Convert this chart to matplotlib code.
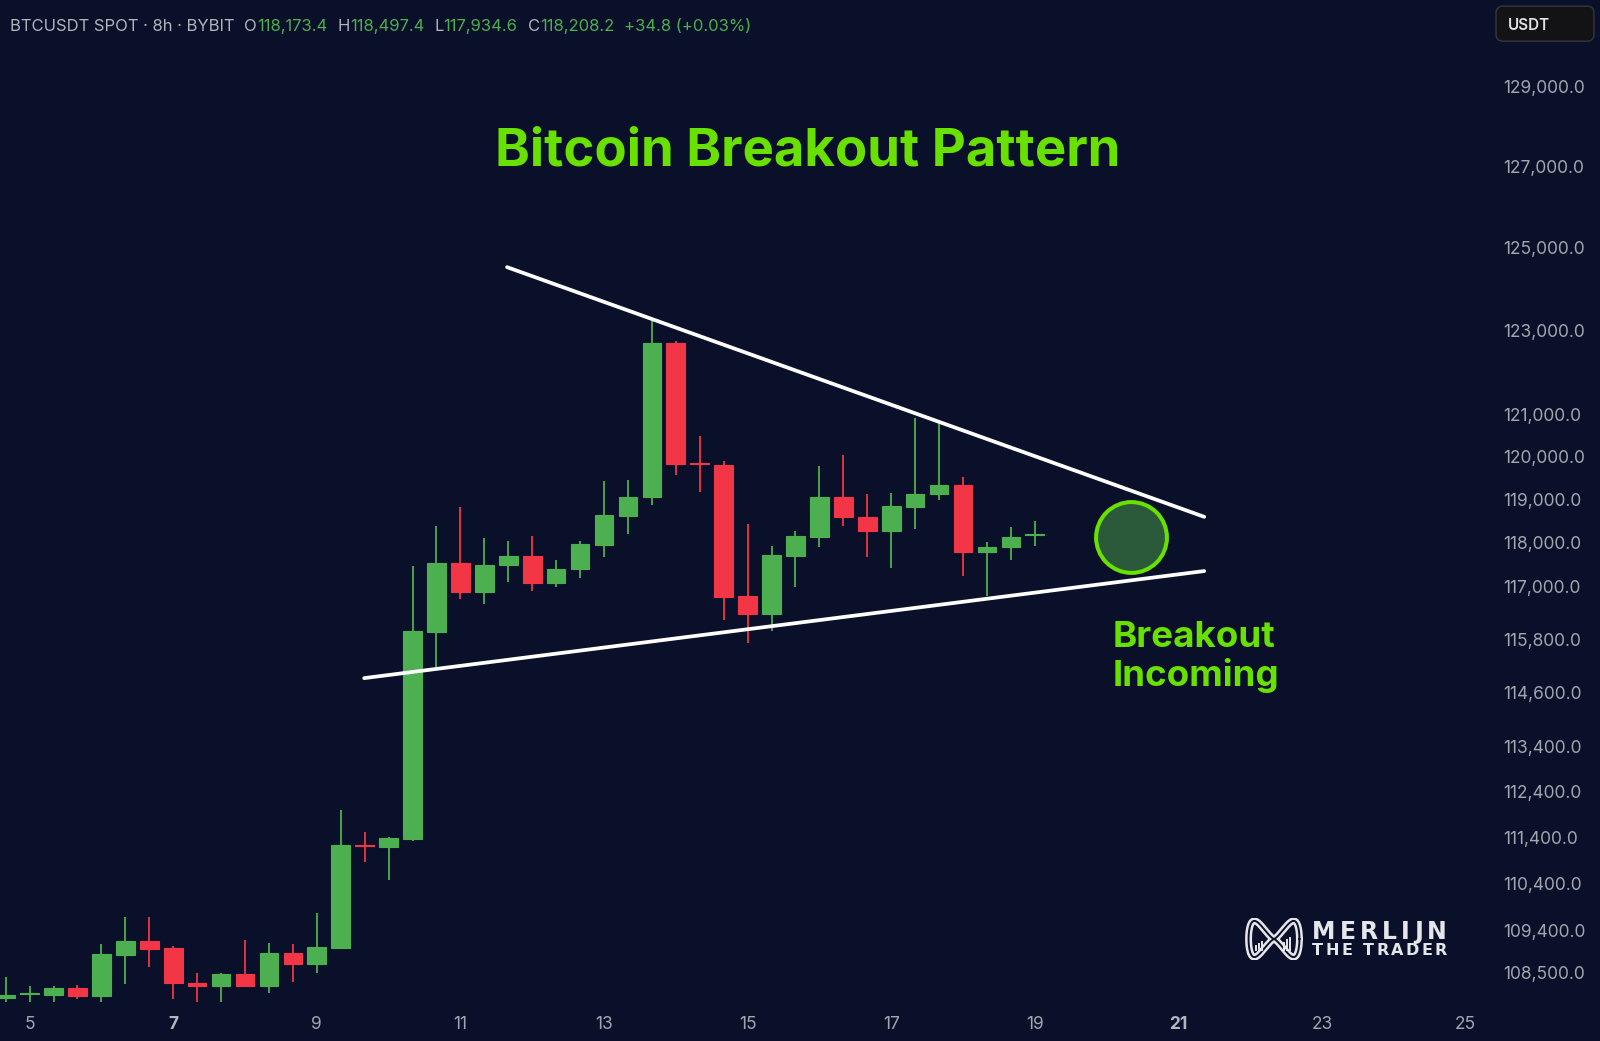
import matplotlib
matplotlib.use("Agg")
import matplotlib.pyplot as plt
import numpy as np
import pandas as pd
from matplotlib.ticker import FixedLocator, FuncFormatter, NullLocator
from matplotlib.patches import FancyBboxPatch

W, H, DPI = 1600, 1041, 100

# ---------------- data ----------------
candle_times = pd.date_range("2025-07-04 16:00", periods=44, freq="8h")
opens = [107950, 108045, 108030, 108175, 107990, 108875, 109160, 109020, 108280, 108200,
         108460, 108220, 108900, 108680, 109015, 111230, 111190, 111365, 115970, 117535,
         116873, 117490, 117685, 117068, 117400, 117950, 118610, 119054, 122697, 119855,
         119816, 116774, 116360, 117685, 118137, 119070, 118596, 118261, 118830, 119133,
         119333, 117786, 117900, 118173.4]
highs = [108400, 108200, 108215, 108235, 109100, 109670, 109680, 109065, 108485, 108495,
         109180, 109115, 109100, 109755, 112000, 111515, 111410, 117456, 118377, 118830,
         118107, 118037, 118160, 117610, 118037, 119426, 119466, 123215, 122735, 120494,
         119893, 118440, 117930, 118261, 119776, 120049, 119140, 119157, 120908, 120790,
         119520, 118014, 118354, 118497.4]
lows = [107800, 107800, 107800, 107925, 107800, 108255, 108620, 107940, 107800, 107800,
        108190, 108060, 108295, 108485, 108990, 110855, 110480, 111330, 115178, 116715,
        116593, 117090, 116887, 116977, 117182, 117672, 118200, 118883, 119566, 119170,
        116225, 115721, 115983, 116986, 117913, 118377, 117663, 117420, 118317, 119000,
        117244, 116790, 117610, 117934.6]
closes = [108030, 108060, 108175, 107990, 108890, 109160, 109000, 108265, 108210, 108460,
          108215, 108900, 108680, 109035, 111230, 111215, 111380, 115983, 117535, 116873,
          117490, 117685, 117068, 117400, 117968, 118634, 119054, 122697, 119832, 119832,
          116751, 116360, 117708, 118160, 119070, 118587, 118261, 118844, 119140, 119343,
          117786, 117900, 118137, 118208.2]

y_ticks = [129000, 127000, 125000, 123000, 121000, 120000, 119000, 118000, 117000,
           115800, 114600, 113400, 112400, 111400, 110400, 109400, 108500]
x_ticks = [5, 7, 9, 11, 13, 15, 17, 19, 21, 23, 25]
bold_x_ticks = [7, 21]

upper_line_days = [11.65, 21.36]
upper_line_prices = [124530, 118600]
lower_line_days = [9.66, 21.36]
lower_line_prices = [114920, 117350]
circle_day = 20.34
circle_price = 118130

symbol_text = "BTCUSDT SPOT · 8h · BYBIT"
title_text = "Bitcoin Breakout Pattern"
note_lines = ["Breakout", "Incoming"]
currency_text = "USDT"
brand_lines = ["MERLIJN", "THE TRADER"]

# ---------------- styles ----------------
BG = "#0a1029"
GREEN = "#4caf50"
RED = "#f23645"
LIME = "#68e000"
GRAY = "#a3a6af"
HEAD_GRAY = "#b2b5be"
WM = "#e4e6ea"
FONT = "Inter"

fig = plt.figure(figsize=(W / DPI, H / DPI), dpi=DPI, facecolor=BG)
renderer = fig.canvas.get_renderer()


def fx(px):
    return px / W


def fy(py):
    return 1 - py / H


def width_of(s, size, family=FONT, weight="normal"):
    t = fig.text(0, 0, s, fontsize=size, family=family, weight=weight)
    w = t.get_window_extent(renderer).width
    t.remove()
    return w


def fit(s, target, family=FONT, weight="normal", start=20.0):
    return start * target / width_of(s, start, family, weight)


AX_BOTTOM = 1002
AX_RIGHT = 1490
ax = fig.add_axes([0, fy(AX_BOTTOM), fx(AX_RIGHT), AX_BOTTOM / H])
ax.set_facecolor(BG)
for sp in ax.spines.values():
    sp.set_visible(False)

# x positions from candle times (day of month + fraction)
xs = np.array([t.day + t.hour / 24.0 for t in candle_times])
o = np.array(opens, float)
h = np.array(highs, float)
l = np.array(lows, float)
c = np.array(closes, float)
up = c >= o
cols = np.where(up, GREEN, RED)

ax.vlines(xs, l, h, colors=cols, linewidth=1.3, zorder=2)
bottoms = np.minimum(o, c)
heights = np.maximum(np.abs(c - o), 1e-6)
ax.bar(xs, heights, bottom=bottoms, width=0.26, color=cols, edgecolor=cols,
       linewidth=0.8, zorder=3)

# trend lines
ax.plot(upper_line_days, upper_line_prices, color="white", lw=2.7,
        solid_capstyle="round", zorder=5)
ax.plot(lower_line_days, lower_line_prices, color="white", lw=2.7,
        solid_capstyle="round", zorder=5)

# breakout circle
ax.plot([circle_day], [circle_price], marker="o", ms=51, mfc="#2b5a3b",
        mec=LIME, mew=2.9, zorder=6, linestyle="none")

ax.set_yscale("log")
ax.set_xlim(4.5877, 25.34)
ax.set_ylim(107872, 131204)

ax.yaxis.tick_right()
ax.yaxis.set_major_locator(FixedLocator(y_ticks))
ax.yaxis.set_minor_locator(NullLocator())
ax.yaxis.set_major_formatter(FuncFormatter(lambda v, p: f"{v:,.1f}"))
ax.set_xticks(x_ticks)
ax.set_xticklabels([str(v) for v in x_ticks])

lab_size = fit("129,000.0", 82)
ax.tick_params(axis="y", length=0, pad=9.3, labelsize=lab_size, labelcolor=GRAY)
ax.tick_params(axis="x", length=0, pad=10.0, labelsize=lab_size, labelcolor=GRAY)
for lab in ax.get_yticklabels() + ax.get_xticklabels():
    lab.set_family(FONT)
for lab, v in zip(ax.get_xticklabels(), x_ticks):
    if v in bold_x_ticks:
        lab.set_weight("bold")
        lab.set_color("#b4b7c0")

# ---------------- header ----------------
last_o, last_h, last_l, last_c = opens[-1], highs[-1], lows[-1], closes[-1]
chg = last_c - last_o
chg_pct = chg / last_o * 100
pieces = [
    (symbol_text, HEAD_GRAY, 0),
    ("O", HEAD_GRAY, 10), (f"{last_o:,.1f}", GREEN, 0),
    ("H", HEAD_GRAY, 10), (f"{last_h:,.1f}", GREEN, 0),
    ("L", HEAD_GRAY, 10), (f"{last_l:,.1f}", GREEN, 0),
    ("C", HEAD_GRAY, 10), (f"{last_c:,.1f}", GREEN, 0),
    (f"{chg:+.1f} ({chg_pct:+.2f}%)", GREEN, 10),
]
hs = 12.0
for _ in range(3):
    tot = sum(width_of(s, hs) + g for s, _, g in pieces)
    gaps = sum(g for _, _, g in pieces)
    hs = hs * (741 - gaps) / (tot - gaps)
x = 10
for s, col, g in pieces:
    x += g
    fig.text(fx(x), fy(31), s, color=col, fontsize=hs, family=FONT,
             ha="left", va="baseline")
    x += width_of(s, hs)

# currency box
bax = fig.add_axes([fx(1495), fy(42.3), 100 / W, 37.3 / H])
bax.axis("off")
bax.set_xlim(0, 1)
bax.set_ylim(0, 1)
bax.add_patch(FancyBboxPatch((0.01, 0.03), 0.98, 0.94,
                             boxstyle="round,pad=0,rounding_size=0.07",
                             mutation_aspect=100 / 37.3, fc="#131315",
                             ec="#34363c", lw=1.0))
fig.text(fx(1508), fy(29.5), currency_text, color="#e2e2e2",
         fontsize=fit(currency_text, 42, weight="semibold"), family=FONT,
         weight="semibold", ha="left", va="baseline")

# ---------------- title & note ----------------
fig.text(fx(808), fy(165), title_text, color=LIME,
         fontsize=fit(title_text, 627, weight="bold"), family=FONT,
         weight="bold", ha="center", va="baseline")
ns = fit(note_lines[0], 163, weight="bold")
fig.text(fx(1113), fy(647), note_lines[0], color=LIME, fontsize=ns,
         family=FONT, weight="bold", ha="left", va="baseline")
fig.text(fx(1113), fy(686), note_lines[1], color=LIME, fontsize=ns,
         family=FONT, weight="bold", ha="left", va="baseline")

# ---------------- watermark ----------------
iax = fig.add_axes([fx(1245), fy(960), 58 / W, 42 / H])
iax.axis("off")
tt = np.linspace(0, 2 * np.pi, 500)
lx = np.cos(tt)
ly = np.sin(tt) * np.cos(tt)
lx = np.sign(lx) * np.abs(lx) ** 0.75
iax.plot(lx, ly, color=WM, lw=5.0, solid_capstyle="round")
iax.plot(lx, ly, color=BG, lw=1.4)
for bx, bh in [(-0.72, 0.10), (-0.60, 0.16), (-0.48, 0.22),
               (0.40, 0.18), (0.52, 0.26), (0.64, 0.34)]:
    iax.plot([bx, bx], [-0.30, -0.30 + bh], color=WM, lw=1.4)
iax.set_xlim(-1.14, 1.14)
iax.set_ylim(-0.58, 0.58)


def spaced(s, x0, base, size, target, weight="bold", family="DejaVu Sans"):
    ws = [width_of(ch, size, family, weight) if ch != " " else size * 0.5
          for ch in s]
    extra = (target - sum(ws)) / max(len(s) - 1, 1)
    xx = x0
    for ch, w in zip(s, ws):
        if ch != " ":
            fig.text(fx(xx), fy(base), ch, color=WM, fontsize=size,
                     family=family, weight=weight, ha="left", va="baseline")
        xx += w + extra


spaced(brand_lines[0], 1312, 939, 17.0, 135)
spaced(brand_lines[1], 1312, 955, 11.5, 135)

fig.savefig("out.png", dpi=DPI, facecolor=BG)
